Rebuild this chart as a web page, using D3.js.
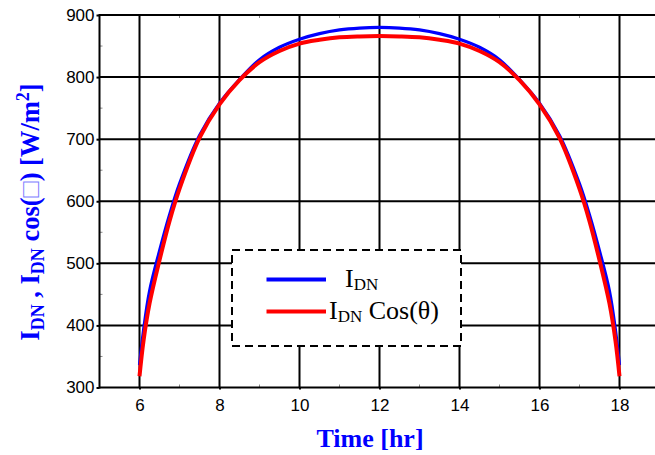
<!DOCTYPE html>
<html>
<head>
<meta charset="utf-8">
<script src="https://cdn.jsdelivr.net/npm/d3@7"></script>
<style>
  html, body { margin: 0; padding: 0; background: #fff; }
  svg { display: block; }
</style>
</head>
<body>
<svg id="chart" width="655" height="455"></svg>
<script>
// Solar time (hours) and beam irradiance samples
const hours = [6, 6.1, 6.25, 6.5, 6.75, 7, 7.5, 8, 8.5, 9, 9.5, 10, 10.5, 11, 11.5, 12,
               12.5, 13, 13.5, 14, 14.5, 15, 15.5, 16, 16.5, 17, 17.25, 17.5, 17.75, 17.9, 18];
// Direct normal irradiance I_DN [W/m2]
const idn = [336, 392, 455, 520, 578, 628, 706, 758, 796, 828, 848, 861, 870, 876, 879, 880,
             879, 876, 870, 861, 848, 828, 796, 758, 706, 628, 578, 520, 455, 392, 336];
// I_DN cos(theta) [W/m2]
const idnCos = [318, 375, 435, 505, 568, 620, 702, 756, 795, 824, 842, 854, 860, 864, 865.5, 866,
                865.5, 864, 860, 854, 842, 824, 795, 756, 702, 620, 568, 505, 435, 375, 318];

const xTicks = [6, 8, 10, 12, 14, 16, 18];
const yTicks = [300, 400, 500, 600, 700, 800, 900];
const legendLabels = [
  { main: "I", sub: "DN", rest: "" },
  { main: "I", sub: "DN", rest: " Cos(θ)" }
];
const seriesColors = ["#0000ff", "#ff0000"];

const svg = d3.select("#chart");
const x = d3.scaleLinear().domain([5, 19]).range([99.5, 659.5]);
const y = d3.scaleLinear().domain([300, 900]).range([387.5, 15]);

const plotL = x(5), plotR = 655, plotT = y(900), plotB = y(300);

// grid lines at major ticks
const grid = svg.append("g");
grid.selectAll("line.v").data(xTicks).join("line")
  .attr("x1", d => x(d)).attr("x2", d => x(d))
  .attr("y1", plotT).attr("y2", plotB)
  .attr("stroke", "#000").attr("stroke-width", 2);
grid.selectAll("line.h").data(yTicks.slice(1, -1)).join("line")
  .attr("x1", plotL).attr("x2", plotR)
  .attr("y1", d => y(d)).attr("y2", d => y(d))
  .attr("stroke", "#000").attr("stroke-width", 2);

// minor tick marks inside the frame
const minorX = d3.range(5, 19, 1).filter(h => h % 2 === 1);
const minorY = d3.range(350, 900, 100);
grid.selectAll("line.mxb").data(minorX).join("line")
  .attr("x1", d => x(d)).attr("x2", d => x(d))
  .attr("y1", plotB).attr("y2", plotB - 3)
  .attr("stroke", "#888").attr("stroke-width", 1);
grid.selectAll("line.mxt").data(minorX).join("line")
  .attr("x1", d => x(d)).attr("x2", d => x(d))
  .attr("y1", plotT).attr("y2", plotT + 3)
  .attr("stroke", "#888").attr("stroke-width", 1);
grid.selectAll("line.my").data(minorY).join("line")
  .attr("x1", plotL).attr("x2", plotL + 3)
  .attr("y1", d => y(d)).attr("y2", d => y(d))
  .attr("stroke", "#888").attr("stroke-width", 1);

// axes
const xAxis = d3.axisBottom(x).tickValues(xTicks).tickSize(2).tickSizeOuter(0).tickPadding(9);
const yAxis = d3.axisLeft(y).tickValues(yTicks).tickSize(3).tickSizeOuter(0).tickPadding(2);

const gx = svg.append("g").attr("transform", `translate(0,${plotB})`).call(xAxis);
const gy = svg.append("g").attr("transform", `translate(${plotL},0)`).call(yAxis);
[gx, gy].forEach(g => {
  g.select(".domain").remove();
  g.selectAll(".tick line").attr("stroke", "#000").attr("stroke-width", 2);
  g.selectAll(".tick text").attr("fill", "#000")
    .style("font-family", "'Liberation Sans', Arial, sans-serif").style("font-size", "17px");
});

// frame: left, bottom, top (right edge runs past the canvas)
svg.append("line").attr("x1", plotL).attr("x2", plotR).attr("y1", plotT).attr("y2", plotT)
  .attr("stroke", "#000").attr("stroke-width", 2);
svg.append("line").attr("x1", plotL).attr("x2", plotR).attr("y1", plotB).attr("y2", plotB)
  .attr("stroke", "#000").attr("stroke-width", 2);
svg.append("line").attr("x1", plotL).attr("x2", plotL).attr("y1", plotT - 1).attr("y2", plotB + 1)
  .attr("stroke", "#000").attr("stroke-width", 2);

// curves
const line = d3.line().x((d, i) => x(hours[i])).y(d => y(d)).curve(d3.curveCatmullRom.alpha(0.5));
svg.append("path").datum(idn).attr("d", line)
  .attr("fill", "none").attr("stroke", seriesColors[0]).attr("stroke-width", 3.2);
svg.append("path").datum(idnCos).attr("d", line)
  .attr("fill", "none").attr("stroke", seriesColors[1]).attr("stroke-width", 4);

// legend
const lg = svg.append("g");
lg.append("rect").attr("x", 232).attr("y", 250).attr("width", 229).attr("height", 96)
  .attr("fill", "#fff").attr("stroke", "#000").attr("stroke-width", 2)
  .attr("stroke-dasharray", "8,5");
const legY = [279.5, 311.5];
const legTextX = [345, 329];
legendLabels.forEach((lab, i) => {
  lg.append("line").attr("x1", 266.5).attr("x2", 326).attr("y1", legY[i]).attr("y2", legY[i])
    .attr("stroke", seriesColors[i]).attr("stroke-width", 4);
  const t = lg.append("text").attr("x", legTextX[i]).attr("y", legY[i] + 7.5)
    .style("font-family", "'Liberation Serif', 'Times New Roman', serif").style("font-size", "26px")
    .attr("fill", "#000");
  t.append("tspan").text(lab.main);
  t.append("tspan").text(lab.sub).attr("dy", 3).style("font-size", "17px");
  if (lab.rest) t.append("tspan").text(lab.rest).attr("dy", -3);
});

// axis titles
svg.append("text").attr("x", 370).attr("y", 447).attr("text-anchor", "middle")
  .style("font-family", "'Liberation Serif', 'Times New Roman', serif")
  .style("font-size", "26px").style("font-weight", "bold").attr("fill", "#0000ff")
  .text("Time [hr]");

const yt = svg.append("text").attr("transform", "translate(39,212) rotate(-90)")
  .attr("text-anchor", "middle")
  .style("font-family", "'Liberation Serif', 'Times New Roman', serif")
  .style("font-size", "26.5px").style("font-weight", "bold").attr("fill", "#0000ff");
yt.append("tspan").text("I");
yt.append("tspan").text("DN").attr("dy", 5).style("font-size", "18px");
yt.append("tspan").text(" , I").attr("dy", -5);
yt.append("tspan").text("DN").attr("dy", 5).style("font-size", "18px");
yt.append("tspan").text(" cos(").attr("dy", -5);
yt.append("tspan").text("□").style("font-weight", "normal").attr("fill", "#8080ff");
yt.append("tspan").text(") [W/m");
yt.append("tspan").text("2").attr("dy", -10).style("font-size", "18px");
yt.append("tspan").text("]").attr("dy", 10);
</script>
</body>
</html>
